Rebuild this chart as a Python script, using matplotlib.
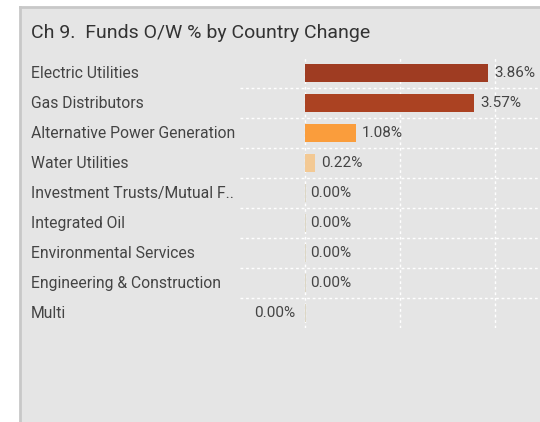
import matplotlib
matplotlib.use("Agg")
import matplotlib.pyplot as plt
from matplotlib.transforms import blended_transform_factory

title = "Ch 9.  Funds O/W % by Country Change"
categories = ["Electric Utilities", "Gas Distributors", "Alternative Power Generation",
              "Water Utilities", "Investment Trusts/Mutual F..", "Integrated Oil",
              "Environmental Services", "Engineering & Construction", "Multi"]
values = [3.86, 3.57, 1.08, 0.22, 0.00, 0.00, 0.00, 0.00, 0.00]
colors = ["#9f3c22", "#ab4222", "#fa9d3c", "#f3c994", "#dcd6c4", "#dcd6c4",
          "#dcd6c4", "#dcd6c4", "#dcd6c4"]
label_left = [False] * 8 + [True]

W, H = 540, 422
fig = plt.figure(figsize=(W / 100, H / 100), dpi=100)
fig.patch.set_facecolor("white")
font = "Roboto"

# panel (extends past right and bottom edges)
bg = fig.add_axes([20 / W, -0.05, (W - 20) / W + 0.05, (H - 7) / H + 0.05], zorder=0)
bg.set_xticks([]); bg.set_yticks([])
bg.set_facecolor("#e5e5e5")
for s in bg.spines.values():
    s.set_color("#c8c8c8"); s.set_linewidth(2)

fig.text(31 / W, 1 - 33 / H, title, fontsize=14, color="#333333", family=font,
         va="center", ha="left", zorder=5)

ax = fig.add_axes([240 / W, 1 - 328 / H, 300 / W, 270 / H], zorder=2)
ax.set_facecolor("none")
n = len(categories)
ys = list(range(n))
ax.barh(ys, values, height=0.63, color=colors, zorder=3)
for y, v, c in zip(ys, values, colors):
    if v == 0:
        ax.barh(y, 0.03, height=0.63, left=0, color=c, zorder=3)
ax.set_xlim(-1.37, 4.95)
ax.set_ylim(n - 0.5, -0.5)
ax.set_xticks([0, 2, 4])
ax.set_yticks([i + 0.5 for i in range(n - 1)])
ax.grid(True, color="white", linestyle=(0, (2, 2)), linewidth=1, zorder=1)
ax.tick_params(length=0, labelbottom=False, labelleft=False)
for s in ax.spines.values():
    s.set_visible(False)

tr = blended_transform_factory(fig.transFigure, ax.transData)
for y, cat in zip(ys, categories):
    ax.text(31 / W, y + 0.03, cat, transform=tr, fontsize=11.3, color="#444444", family=font,
            va="center", ha="left", clip_on=False)

for y, v, left in zip(ys, values, label_left):
    if left:
        ax.annotate(f"{v:.2f}%", (0, y), xytext=(-7, 0), textcoords="offset points",
                    fontsize=11, color="#444444", family=font, va="center", ha="right")
    else:
        ax.annotate(f"{v:.2f}%", (v, y), xytext=(4, 0), textcoords="offset points",
                    fontsize=11, color="#444444", family=font, va="center", ha="left")

fig.savefig("out.png", dpi=100)
